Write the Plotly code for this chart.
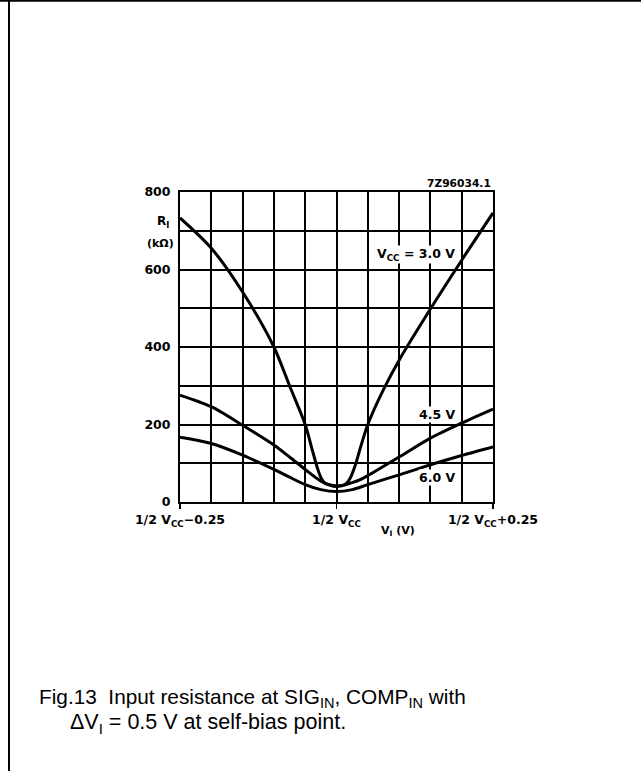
import plotly.graph_objects as go

# ---- data ----
x_30 = [-0.25, -0.2, -0.15, -0.1, -0.075, -0.05, -0.038, -0.03, -0.024, -0.018, -0.01, 0.0,
        0.01, 0.016, 0.022, 0.03, 0.04, 0.05, 0.075, 0.1, 0.15, 0.2, 0.25]
r_30 = [733, 655, 542, 400, 300, 200, 130, 85, 60, 48, 44, 42,
        43, 48, 62, 95, 150, 200, 290, 366, 498, 624, 746]

x_45 = [-0.25, -0.2, -0.15, -0.1, -0.075, -0.05, -0.025, 0.0, 0.025, 0.037, 0.05, 0.1, 0.15, 0.2, 0.25]
r_45 = [276, 246, 198, 147, 116, 84, 54, 40, 50, 57, 68, 116, 165, 204, 240]

x_60 = [-0.25, -0.2, -0.15, -0.1, -0.075, -0.05, -0.025, 0.0, 0.025, 0.05, 0.1, 0.15, 0.2, 0.25]
r_60 = [167, 151, 121, 84, 64, 45, 32, 27, 32, 45, 70, 96, 120, 142]

y_ticks = [0, 200, 400, 600, 800]
x_ticks = [-0.25, 0.0, 0.25]
x_ticktext = ["1/2 V<sub>CC</sub>\u22120.25", "1/2 V<sub>CC</sub>", "1/2 V<sub>CC</sub>+0.25"]

FONT = "DejaVu Sans"
CAP_FONT = "Liberation Sans"

fig = go.Figure()
for xs, ys in [(x_30, r_30), (x_45, r_45), (x_60, r_60)]:
    fig.add_trace(go.Scatter(x=xs, y=ys, mode="lines",
                             line=dict(color="black", width=3, shape="spline", smoothing=0.8),
                             showlegend=False, hoverinfo="skip"))

W, H = 641, 771
PX0, PX1, PY0, PY1 = 180, 493, 192, 502   # plot area in pixels
PW, PH = PX1 - PX0, PY1 - PY0
L, R, T, B = PX0, W - PX1, PY0, H - PY1

def px(p):
    return (p - PX0) / PW

def py(p):
    return (PY1 - p) / PH

GW = 2
fig.update_layout(
    width=W, height=H, autosize=False,
    margin=dict(l=L, r=R, t=T, b=B, pad=0),
    paper_bgcolor="white", plot_bgcolor="white",
    showlegend=False,
    xaxis=dict(range=[-0.25, 0.25], tickmode="array", tickvals=x_ticks, ticktext=x_ticktext,
               showgrid=False, zeroline=False, showline=True, mirror=True, linecolor="black", linewidth=2,
               ticks="outside", ticklen=5, tickwidth=1.5, tickcolor="black",
               tickfont=dict(family=FONT, size=12.5, color="black", weight="bold"),
               minor=dict(tickmode="linear", tick0=0, dtick=0.05, showgrid=True, gridcolor="black", gridwidth=GW, ticks=""),
               fixedrange=True),
    yaxis=dict(range=[0, 800], tickmode="array", tickvals=y_ticks, ticktext=[str(v) for v in y_ticks],
               showgrid=True, gridcolor="black", gridwidth=GW,
               zeroline=False, showline=True, mirror=True, linecolor="black", linewidth=2,
               ticks="", ticklabelstandoff=5,
               tickfont=dict(family=FONT, size=12.5, color="black", weight="bold"),
               minor=dict(tickmode="linear", tick0=0, dtick=100, showgrid=True, gridcolor="black", gridwidth=GW, ticks=""),
               fixedrange=True),
    shapes=[
        dict(type="line", xref="paper", yref="paper", x0=px(0), x1=px(W), y0=py(0.8), y1=py(0.8),
             line=dict(color="black", width=2)),
        dict(type="line", xref="paper", yref="paper", x0=px(9), x1=px(9), y0=py(0), y1=py(H),
             line=dict(color="black", width=2)),
    ],
)

ann = []
def add(text, x, y, xref="x", yref="y", size=12.5, xanchor="center", yanchor="middle",
        family=FONT, weight="bold", bg=None):
    d = dict(text=text, x=x, y=y, xref=xref, yref=yref, showarrow=False,
             xanchor=xanchor, yanchor=yanchor,
             font=dict(family=family, size=size, color="black", weight=weight))
    if bg:
        d["bgcolor"] = bg
        d["borderpad"] = 0
    ann.append(d)

add("7Z96034.1", 1.0, py(183), xref="paper", yref="paper", size=10.7, xanchor="right")
add("R<sub>I</sub>", px(163), py(222), xref="paper", yref="paper", size=12)
add("(k\u03a9)", px(160), py(243), xref="paper", yref="paper", size=11)
add("V<sub>CC</sub> = 3.0 V", 0.127, 640, bg="white")
add("4.5 V", 0.16, 225, bg="white")
add("6.0 V", 0.16, 64, bg="white")
add("V<sub>I</sub> (V)", px(398), py(531), xref="paper", yref="paper", size=11)
add("Fig.13  Input resistance at SIG<sub>IN</sub>, COMP<sub>IN</sub> with", px(37), py(698),
    xref="paper", yref="paper", size=20.8, xanchor="left", family=CAP_FONT, weight="normal")
add("\u0394V<sub>I</sub> = 0.5 V at self-bias point.", px(68), py(723),
    xref="paper", yref="paper", size=21.5, xanchor="left", family=CAP_FONT, weight="normal")
fig.update_layout(annotations=ann)

fig.write_html("out.html", config={"displayModeBar": False, "staticPlot": True},
               post_script="document.body.style.margin='0';document.body.style.padding='0';")
